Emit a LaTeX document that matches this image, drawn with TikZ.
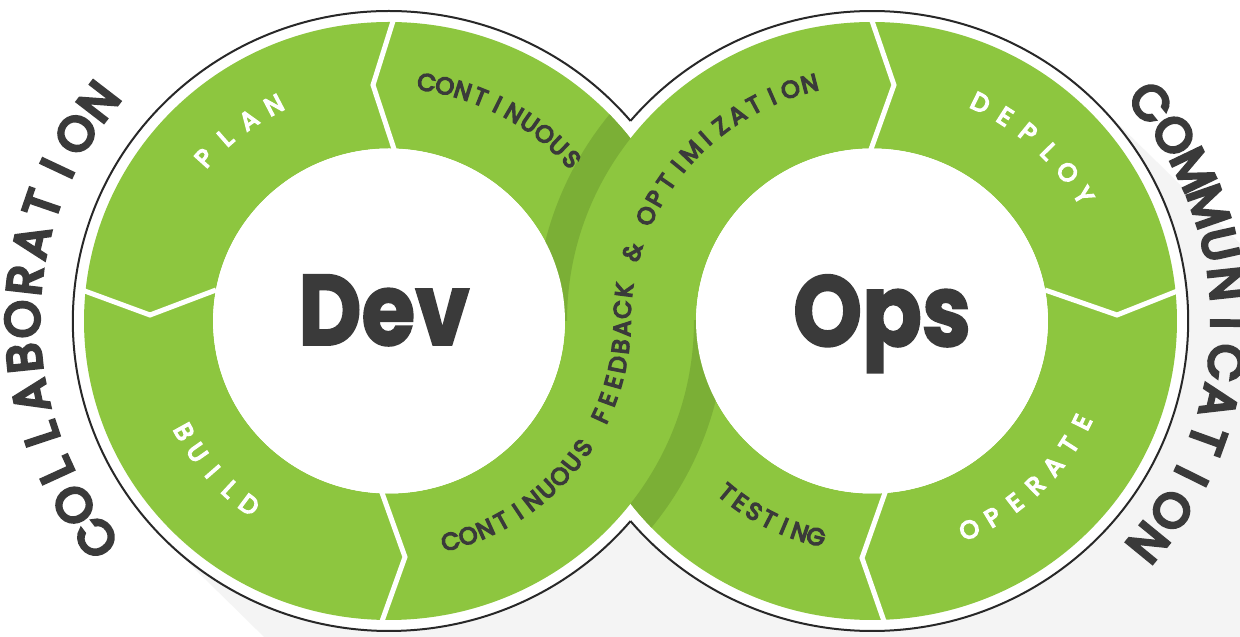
\documentclass[tikz,border=0pt]{standalone}
\usepackage{fontspec}
\usepackage{graphicx}
\setmainfont{Poppins}
\newfontfamily\medfont{Poppins}[FakeBold=6]
\newfontfamily\sbfont{Poppins}[FakeBold=6]
\newfontfamily\outfont{Poppins}[FakeBold=7]
\newfontfamily\heavyfont{Poppins}[BoldFeatures={FakeBold=2}]
\definecolor{grn}{RGB}{141,198,63}
\definecolor{dgrn}{RGB}{123,175,54}
\definecolor{txt}{RGB}{58,58,58}
\definecolor{shd}{RGB}{244,244,244}
\definecolor{ln}{RGB}{40,40,40}
\newlength\lw
\newlength\lh
\newcommand\lblW{\medfont\fontsize{25}{29}\selectfont}
\newcommand\lblD{\sbfont\fontsize{24}{28}\selectfont}
\newcommand\lblO{\outfont\fontsize{48}{57}\selectfont}
\tikzset{
  letter/.style={inner sep=0pt, text depth=0pt, anchor=center},
  divider/.style={white, line width=5pt, line join=miter},
  outline/.style={ln, line width=2pt},
  bigword/.style={font=\heavyfont\fontsize{100}{110}\selectfont\bfseries, text=txt, anchor=base, inner sep=0pt}
}
% letters along one arc: #1 cx, #2 cy, #3 r, #4 first-letter angle, #5 last-letter angle, #6 font, #7 colour, #8 letters
\newcommand\arcword[8]{%
  \gdef\sw{0}%
  \foreach \ch [count=\i] in {#8}{%
    \settowidth{\lw}{#6\ch}%
    \pgfmathsetmacro\tmp{\sw+\lw}\xdef\sw{\tmp}\xdef\nlet{\i}%
    \ifnum\i=1 \pgfmathsetmacro\tmp{\lw}\xdef\wfirst{\tmp}\fi
    \pgfmathsetmacro\tmp{\lw}\xdef\wlast{\tmp}}%
  \settoheight{\lh}{#6H}%
  \pgfmathsetmacro\dirn{(#5>#4) ? 1 : -1}%
  \pgfmathsetmacro\Larc{abs(#5-#4)/57.29578*#3}%
  \pgfmathsetmacro\trk{(\Larc-(\sw-\wfirst/2-\wlast/2))/(\nlet-1)}%
  \pgfmathsetmacro\tmp{-\wfirst/2}\xdef\pos{\tmp}%
  \foreach \ch in {#8}{%
    \settowidth{\lw}{#6\ch}%
    \pgfmathsetmacro\ang{#4+\dirn*(\pos+\lw/2)/#3*57.29578}%
    \pgfmathsetmacro\Px{#1+#3*cos(\ang)}%
    \pgfmathsetmacro\Py{#2+#3*sin(\ang)}%
    \pgfmathsetmacro\rot{\ang+\dirn*90}%
    \node[letter, font=#6, text=#7, rotate=\rot, text height=\lh] at (\Px,\Py) {\ch};
    \pgfmathsetmacro\tmp{\pos+\lw+\trk}\xdef\pos{\tmp}}%
}
% letters along the S path through both rings: #1 h, #2 r, #3 s first, #4 s last, #5 letters
\newcommand\sword[5]{%
  \gdef\sw{0}%
  \foreach \ch [count=\i] in {#5}{%
    \settowidth{\lw}{\lblD\ch}%
    \pgfmathsetmacro\tmp{\sw+\lw}\xdef\sw{\tmp}\xdef\nlet{\i}%
    \ifnum\i=1 \pgfmathsetmacro\tmp{\lw}\xdef\wfirst{\tmp}\fi
    \pgfmathsetmacro\tmp{\lw}\xdef\wlast{\tmp}}%
  \settoheight{\lh}{\lblD H}%
  \pgfmathsetmacro\trk{(#4-#3-(\sw-\wfirst/2-\wlast/2))/(\nlet-1)}%
  \pgfmathsetmacro\tmp{-\wfirst/2}\xdef\pos{\tmp}%
  \foreach \ch in {#5}{%
    \settowidth{\lw}{\lblD\ch}%
    \pgfmathsetmacro\sv{#3+\pos+\lw/2}%
    \ifdim\sv pt<0pt
      \pgfmathsetmacro\ang{\sv/#2*57.29578}%
      \pgfmathsetmacro\Px{-#1+#2*cos(\ang)}%
      \pgfmathsetmacro\rot{\ang+90}%
    \else
      \pgfmathsetmacro\ang{180-\sv/#2*57.29578}%
      \pgfmathsetmacro\Px{#1+#2*cos(\ang)}%
      \pgfmathsetmacro\rot{\ang-90}%
    \fi
    \pgfmathsetmacro\Py{#2*sin(\ang)}%
    \node[letter, font=\lblD, text=txt, rotate=\rot, text height=\lh] at (\Px,\Py) {\ch};
    \pgfmathsetmacro\tmp{\pos+\lw+\trk}\xdef\pos{\tmp}}%
}
\begin{document}
\begin{tikzpicture}[x=1pt,y=1pt]
\useasboundingbox (0,0) rectangle (1240,637);
\clip (0,0) rectangle (1240,637);
\fill[white] (0,0) rectangle (1240,637);
\begin{scope}[shift={(630.5,316)}, xscale=1.02]
  \def\h{236.76}\def\Ro{299}\def\Ri{172.5}\def\Rl{310}
  % long soft shadow
  \fill[shd] (-\h+219.2,219.2) -- (-\h+919.2,-480.8) -- (-\h+480.8,-919.2) -- (-\h-219.2,-219.2) -- cycle;
  \fill[shd] (\h+219.2,219.2) -- (\h+919.2,-480.8) -- (\h+480.8,-919.2) -- (\h-219.2,-219.2) -- cycle;
  \fill[white] (-\h,0) circle (\Rl) (\h,0) circle (\Rl);
  \draw[outline] (-\h,0) ++(40.21:\Rl) arc[start angle=40.21, end angle=319.79, radius=\Rl];
  \draw[outline] (\h,0) ++(-139.79:\Rl) arc[start angle=-139.79, end angle=139.79, radius=\Rl];
  % rings
  \fill[grn, even odd rule] (-\h,0) circle (\Ro) circle (\Ri);
  \fill[grn, even odd rule] (\h,0) circle (\Ro) circle (\Ri);
  % shadows at the crossing
  \begin{scope}
    \clip (-\h,0) circle (\Ro);
    \clip (-400,0) rectangle (400,400);
    \fill[dgrn, even odd rule] (\h,0) circle (330) circle (\Ro);
  \end{scope}
  \begin{scope}
    \clip (\h,0) circle (\Ro);
    \clip (-400,-400) rectangle (400,0);
    \fill[dgrn, even odd rule] (-\h,0) circle (330) circle (\Ro);
  \end{scope}
  \fill[white] (-\h,0) circle (\Ri) (\h,0) circle (\Ri);
\end{scope}
% dividers
\draw[divider] (394,619) -- (373,552) -- (395,485);
\draw[divider] (82,347) -- (150,322) -- (216,347);
\draw[divider] (381,147) -- (405,80) -- (381,13);
\draw[divider] (871,619) -- (894,552) -- (870,485);
\draw[divider] (1045,347) -- (1117,322) -- (1180,347);
\draw[divider] (886,147) -- (862,79) -- (885,13);
% labels
\begin{scope}[shift={(630.5,316)}, xscale=1.02]
  \def\h{236.76}
  \arcword{-\h}{0}{235}{138}{117.6}{\lblW}{white}{P,L,A,N}
  \arcword{-\h}{0}{233}{81.2}{42.1}{\lblD}{txt}{C,O,N,T,I,N,U,O,U,S}
  \arcword{-\h}{0}{238}{208.9}{233.3}{\lblW}{white}{B,U,I,L,D}
  \arcword{\h}{0}{234}{64}{31.2}{\lblW}{white}{D,E,P,L,O,Y}
  \arcword{\h}{0}{238}{-65.4}{-26.2}{\lblW}{white}{O,P,E,R,A,T,E}
  \arcword{\h}{0}{231}{230.3}{255.7}{\lblD}{txt}{T,E,S,T,I,N,G}
  \sword{\h}{\h}{-308.7}{312}{C,O,N,T,I,N,U,O,U,S,~,F,E,E,D,B,A,C,K,~,\&,~,O,P,T,I,M,I,Z,A,T,I,O,N}
  \arcword{-\h}{0}{343}{217}{142.4}{\lblO}{txt}{C,O,L,L,A,B,O,R,A,T,I,O,N}
  \arcword{\h}{0}{333}{38.6}{-39.3}{\lblO}{txt}{C,O,M,M,U,N,I,C,A,T,I,O,N}
\end{scope}
\node[bigword] (dev) at (384,292) {\scalebox{0.87}[1]{Dev}};
\node[bigword] (ops) at (882,291) {\scalebox{0.88}[1]{Ops}};
\end{tikzpicture}
\end{document}
